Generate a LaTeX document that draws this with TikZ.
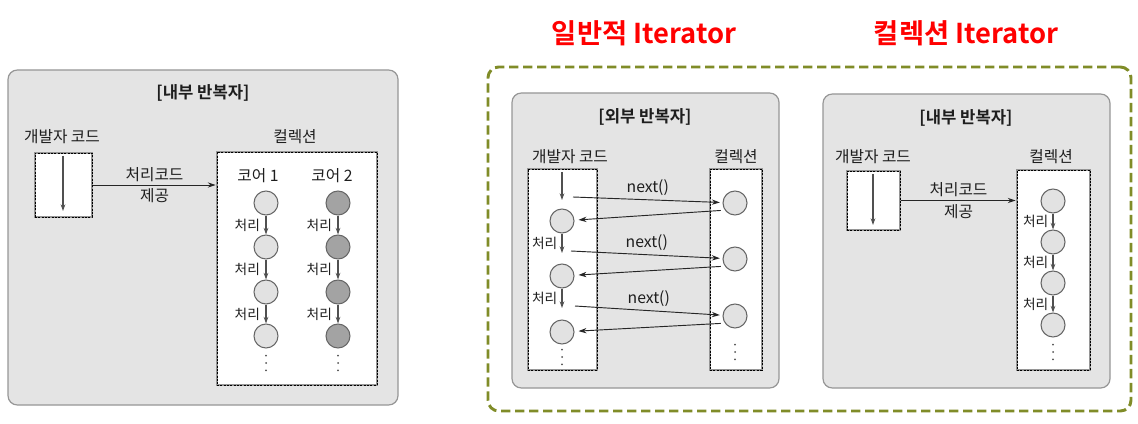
\documentclass[tikz,border=0pt]{standalone}
\usepackage{fontspec}
\setmainfont{Noto Sans CJK KR}[BoldFont={Noto Sans CJK KR Bold}]
\usepackage{tikz}
\usetikzlibrary{arrows.meta,positioning,fit}
\definecolor{panelcol}{RGB}{228,228,228}
\definecolor{rimcol}{RGB}{150,150,150}
\definecolor{ballcol}{RGB}{226,226,226}
\definecolor{darkball}{RGB}{163,163,163}
\definecolor{flowcol}{RGB}{80,80,80}
\definecolor{olivecol}{RGB}{128,140,40}
\definecolor{titlecol}{RGB}{255,0,0}
\definecolor{txtcol}{RGB}{30,30,30}
\tikzset{
  % grey iterator panel
  panel/.style={rectangle, rounded corners=7pt, draw=rimcol, fill=panelcol, line width=0.9pt, inner sep=0pt},
  % white holder box: grey rim with fine dashed line
  holder/.style={rectangle, draw=rimcol, fill=white, line width=2pt, inner sep=0pt,
                 postaction={draw=black, dash pattern=on 1.5pt off 1pt, line width=0.45pt}},
  % olive group frame
  group/.style={rectangle, rounded corners=8pt, draw=olivecol, line width=2.2pt,
                dash pattern=on 7pt off 3.5pt, inner sep=0pt},
  % element circle
  ball/.style={circle, draw=black!60, fill=#1, line width=0.8pt, minimum size=18pt, inner sep=0pt},
  ball/.default={ballcol},
  % texts
  lbl/.style={font=\fontsize{11.8}{14}\selectfont, text=txtcol, inner sep=1pt},
  slbl/.style={font=\fontsize{10.3}{12}\selectfont, text=txtcol, inner sep=1pt},
  hdr/.style={font=\fontsize{12.5}{15}\selectfont\bfseries, text=txtcol},
  bigt/.style={font=\fontsize{20.5}{24}\selectfont\bfseries, text=titlecol},
  % vertical ellipsis
  dots/.style={minimum width=3pt, minimum height=16pt, inner sep=0pt,
               path picture={
                 \fill[flowcol] ([yshift=5.5pt]path picture bounding box.center) circle (0.75pt);
                 \fill[flowcol] (path picture bounding box.center) circle (0.75pt);
                 \fill[flowcol] ([yshift=-5.5pt]path picture bounding box.center) circle (0.75pt);
               }},
  % processing arrow
  flow/.style={-{Stealth[length=5pt,width=3.5pt]}, draw=flowcol, line width=1.1pt},
  % hand-over and next() arrows
  give/.style={-{Stealth[length=6pt,width=4pt]}, draw=black!85, line width=0.7pt},
}
\begin{document}
\begin{tikzpicture}[x=0.75pt, y=-0.75pt]
  \useasboundingbox (0,0) rectangle (1138,424);

  % Left: internal iterator with two cores
  \node[panel, fit={(8,70) (398,405)}] (inP) {};
  \node[hdr] (inT) at (203,93) {[내부 반복자]};
  \node[lbl] (inDevT) at (62,137) {개발자 코드};
  \node[lbl] (inColT) at (295,137) {컬렉션};
  \node[holder, fit={(35,153) (92,217)}] (inDev) {};
  \node[holder, fit={(217,152) (377,385)}] (inCol) {};
  \coordinate (inDevA) at (63,156);
  \coordinate (inDevB) at (63,211);
  \draw[flow] (inDevA) -- (inDevB);
  \draw[give] (inDev.east) -- (inDev.east -| inCol.west)
    node[midway, lbl, align=center, font=\fontsize{11.8}{16}\selectfont] {처리코드\\제공};

  \node[lbl] (core1) at (258,176) {코어 1};
  \node[lbl] (core2) at (332,176) {코어 2};
  \node[ball] (a1) at (266,203) {};
  \node[ball] (a2) at (266,247) {};
  \node[ball] (a3) at (266,292) {};
  \node[ball] (a4) at (266,336) {};
  \node[ball=darkball] (b1) at (338,203) {};
  \node[ball=darkball] (b2) at (338,247) {};
  \node[ball=darkball] (b3) at (338,292) {};
  \node[ball=darkball] (b4) at (338,336) {};
  \draw[flow] (a1) -- (a2) node[midway, left=3pt, slbl] {처리};
  \draw[flow] (a2) -- (a3) node[midway, left=3pt, slbl] {처리};
  \draw[flow] (a3) -- (a4) node[midway, left=3pt, slbl] {처리};
  \draw[flow] (b1) -- (b2) node[midway, left=3pt, slbl] {처리};
  \draw[flow] (b2) -- (b3) node[midway, left=3pt, slbl] {처리};
  \draw[flow] (b3) -- (b4) node[midway, left=3pt, slbl] {처리};
  \node[dots] (aDots) at (266,363) {};
  \node[dots] (bDots) at (338,363) {};

  % Titles and group frame
  \node[bigt] (genT) at (644,33) {일반적 Iterator};
  \node[bigt] (colT) at (966,33) {컬렉션 Iterator};
  \node[group, fit={(488,67) (1131,411)}] (grp) {};

  % Middle: external iterator
  \node[panel, fit={(512,93) (779,388)}] (exP) {};
  \node[hdr] (exT) at (645,117) {[외부 반복자]};
  \node[lbl] (exDevT) at (570,157) {개발자 코드};
  \node[lbl] (exColT) at (736,157) {컬렉션};
  \node[holder, fit={(528,169) (597,370)}] (exDev) {};
  \node[holder, fit={(710,169) (762,370)}] (exCol) {};

  \node[ball] (l1) at (562,221) {};
  \node[ball] (l2) at (562,276) {};
  \node[ball] (l3) at (562,332) {};
  \node[ball] (r1) at (735,203) {};
  \node[ball] (r2) at (735,259) {};
  \node[ball] (r3) at (735,316) {};
  \coordinate (d0) at (562,172);
  \coordinate (d1) at (562,200);
  \coordinate (d2) at (562,253);
  \coordinate (d3) at (562,308);
  \coordinate (c1) at (573,197);
  \coordinate (c2) at (571,251);
  \coordinate (c3) at (575,306);
  \draw[flow] (d0) -- (d1);
  \draw[flow] (l1) -- (d2) node[midway, left=2pt, slbl] {처리};
  \draw[flow] (l2) -- (d3) node[midway, left=2pt, slbl] {처리};
  \draw[give, shorten >=2pt] (c1) -- (r1) node[midway, above=2pt, lbl] {next()};
  \draw[give, shorten >=2pt] (c2) -- (r2) node[midway, above=2pt, lbl] {next()};
  \draw[give, shorten >=2pt] (c3) -- (r3) node[midway, above=2pt, lbl] {next()};
  \draw[give, shorten <=3pt, shorten >=3pt] (r1.215) -- (l1);
  \draw[give, shorten <=3pt, shorten >=3pt] (r2.215) -- (l2);
  \draw[give, shorten <=3pt, shorten >=3pt] (r3.215) -- (l3);
  \node[dots] (lDots) at (562,357) {};
  \node[dots] (rDots) at (735,352) {};

  % Right: internal iterator of the collection
  \node[panel, fit={(823,94) (1110,388)}] (cP) {};
  \node[hdr] (cT) at (966,118) {[내부 반복자]};
  \node[lbl] (cDevT) at (873,157) {개발자 코드};
  \node[lbl] (cColT) at (1051,157) {컬렉션};
  \node[holder, fit={(847,171) (900,230)}] (cDev) {};
  \node[holder, fit={(1017,170) (1090,370)}] (cCol) {};
  \coordinate (cDevA) at (873,174);
  \coordinate (cDevB) at (873,225);
  \draw[flow] (cDevA) -- (cDevB);
  \draw[give] (cDev.east) -- (cDev.east -| cCol.west)
    node[midway, lbl, align=center, font=\fontsize{11.8}{16}\selectfont] {처리코드\\제공};

  \node[ball] (k1) at (1053,201) {};
  \node[ball] (k2) at (1053,242) {};
  \node[ball] (k3) at (1053,283) {};
  \node[ball] (k4) at (1053,325) {};
  \draw[flow] (k1) -- (k2) node[midway, left=2pt, slbl] {처리};
  \draw[flow] (k2) -- (k3) node[midway, left=2pt, slbl] {처리};
  \draw[flow] (k3) -- (k4) node[midway, left=2pt, slbl] {처리};
  \node[dots] (kDots) at (1053,352) {};
\end{tikzpicture}
\end{document}
